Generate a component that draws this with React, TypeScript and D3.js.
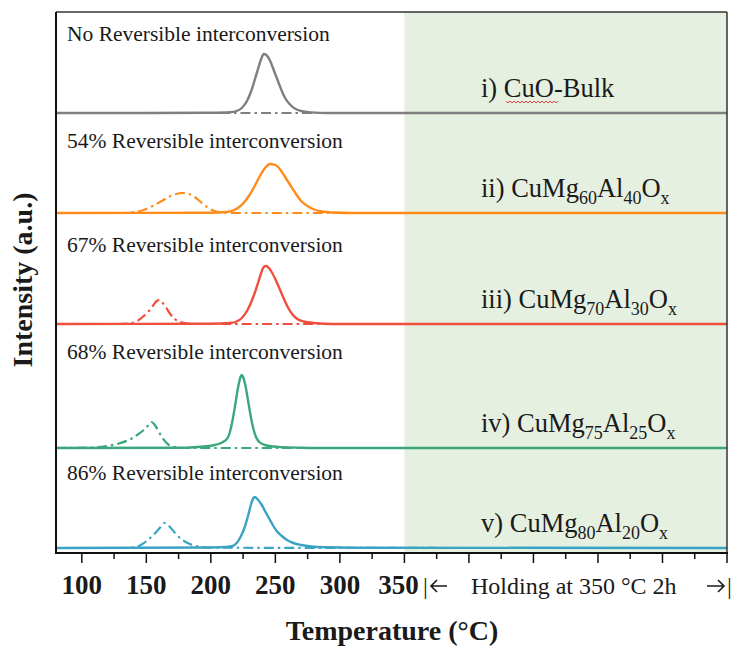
import React from "react";
import * as d3 from "d3";

// ---------- data ----------
type Pt = [number, number]; // [temperature °C, intensity a.u.]

const reversibility = ["No", "54%", "67%", "68%", "86%"];
const sampleTags = ["i)", "ii)", "iii)", "iv)", "v)"];
const mgContent = [0, 60, 70, 75, 80];
const alContent = [0, 40, 30, 25, 20];

// TPR traces (solid) and re-reduction traces (dash-dot)
const cuoBulkTpr: Pt[] = [
  [80, 0], [150, 0], [200, 0.3], [215, 0.8], [220, 2], [224, 5], [228, 12], [231, 21],
  [234, 33], [237, 46], [239, 54], [241, 59], [243, 58], [246, 52], [249, 42], [252, 32],
  [255, 22], [258, 14], [261, 9], [265, 4.5], [270, 2], [278, 0.6], [290, 0], [600, 0],
];
const cuoBulkRe: Pt[] = [[80, 0], [410, 0]];

const mg60Tpr: Pt[] = [
  [80, 0], [200, 0.3], [212, 1], [218, 3], [222, 6], [226, 11], [230, 18], [234, 27],
  [238, 37], [242, 45], [246, 49], [250, 48], [254, 43], [258, 35], [262, 27], [266, 19],
  [270, 12], [275, 7], [280, 3.5], [286, 1.5], [295, 0.5], [310, 0], [600, 0],
];
const mg60Re: Pt[] = [
  [80, 0], [130, 0], [140, 0.8], [148, 3], [155, 7], [162, 12], [168, 16.5], [173, 19],
  [178, 20], [183, 19], [188, 15.5], [193, 10], [198, 5], [203, 2], [210, 0.5], [220, 0], [410, 0],
];

const mg70Tpr: Pt[] = [
  [80, 0], [200, 0.3], [215, 1], [220, 2.5], [224, 6], [228, 13], [231, 21], [234, 31],
  [237, 43], [239, 51], [241, 57], [243, 58], [245, 56], [248, 50], [251, 42], [254, 33],
  [257, 24], [260, 16], [263, 10], [267, 5], [272, 2.5], [280, 1], [295, 0], [600, 0],
];
const mg70Re: Pt[] = [
  [80, 0], [130, 0], [138, 0.8], [143, 3], [148, 8], [152, 13], [155, 18], [158, 23],
  [160, 24], [162, 22], [165, 17], [168, 11], [172, 5], [176, 2], [182, 0.5], [190, 0], [410, 0],
];

const mg75Tpr: Pt[] = [
  [80, 0], [180, 0.3], [190, 1], [198, 2], [203, 3], [207, 4.5], [210, 6.5], [213, 10],
  [215, 17], [217, 29], [219, 44], [221, 60], [223, 71], [224, 73], [225, 71], [227, 61],
  [229, 46], [231, 31], [233, 19], [235, 11], [238, 5.5], [242, 3], [248, 1.5], [255, 0.8],
  [270, 0.3], [290, 0], [600, 0],
];
const mg75Re: Pt[] = [
  [80, 0], [110, 0.5], [120, 2], [130, 5], [138, 9], [144, 14], [148, 18], [151, 22],
  [154, 26], [156, 24], [159, 18], [162, 11], [165, 6], [168, 2.5], [172, 1], [180, 0], [410, 0],
];

const mg80Tpr: Pt[] = [
  [80, 0], [200, 0.5], [212, 1], [217, 2], [220, 5], [223, 11], [226, 20], [229, 33],
  [231, 43], [233, 50], [234, 51], [236, 49], [239, 44], [242, 37], [245, 30], [248, 23],
  [251, 17], [255, 12], [259, 8], [264, 5], [270, 3], [278, 1.5], [290, 0.7], [310, 0.3], [600, 0],
];
const mg80Re: Pt[] = [
  [80, 0], [135, 0], [142, 1], [147, 4], [152, 9], [157, 15], [161, 21], [164, 25],
  [166, 24], [169, 20], [173, 14], [177, 9], [182, 5], [187, 2.5], [193, 1], [200, 0.3], [410, 0],
];

const tprSeries = [cuoBulkTpr, mg60Tpr, mg70Tpr, mg75Tpr, mg80Tpr];
const reSeries = [cuoBulkRe, mg60Re, mg70Re, mg75Re, mg80Re];

const xDomain: [number, number] = [80, 600];
const holdStart = 350;
const majorTicks = [100, 150, 200, 250, 300, 350, 400, 450, 500, 550, 600];
const minorTicks = [125, 175, 225, 275, 325, 375, 425, 475, 525, 575];
const labelledTicks = [100, 150, 200, 250, 300, 350];

// ---------- layout & style ----------
const W = 734;
const H = 653;
const plotLeft = 56;
const plotRight = 727;
const plotTop = 12;
const plotBottom = 553;
const panelBaseY = [113, 213, 324, 448, 548];
const noteY = [41, 148, 252, 359, 480];
const colors = ["#7f7f7f", "#ff8c1a", "#f24e3d", "#3ba77d", "#3ba3c4"];
const serif = "'Liberation Serif', 'Times New Roman', serif";
const ink = "#1a1a1a";

// arrow glyph drawn as a stroke: shaft from x0 to x1, head at x1
function Arrow({ x0, x1, y }: { x0: number; x1: number; y: number }) {
  const dir = Math.sign(x1 - x0);
  const h = 6;
  return (
    <path
      d={`M${x0},${y}L${x1},${y}M${x1 - dir * h},${y - h}L${x1},${y}L${x1 - dir * h},${y + h}`}
      fill="none"
      stroke={ink}
      strokeWidth={1.6}
    />
  );
}

export default function App() {
  const x = d3.scaleLinear().domain(xDomain).range([plotLeft, plotRight]);

  const lineFor = (base: number) => {
    const y = d3.scaleLinear().domain([0, 80]).range([base, base - 80]);
    return d3
      .line<Pt>()
      .x((d) => x(d[0]))
      .y((d) => y(d[1]))
      .curve(d3.curveMonotoneX);
  };

  // spell-check squiggle under "CuO"
  const squiggle = (() => {
    const pts: string[] = [];
    const x0 = 506, x1 = 558, yb = 102;
    for (let i = 0, xx = x0; xx <= x1; xx += 2, i++) {
      pts.push(`${xx},${yb + (i % 2 === 0 ? -1 : 1)}`);
    }
    return "M" + pts.join("L");
  })();

  return (
    <svg
      width={W}
      height={H}
      viewBox={`0 0 ${W} ${H}`}
      style={{ position: "absolute", left: 0, top: 0, background: "#fff" }}
      fontFamily={serif}
    >
      {/* holding period shading */}
      <rect
        x={x(holdStart)}
        y={plotTop}
        width={plotRight - x(holdStart)}
        height={plotBottom - plotTop}
        fill="#e6f0e1"
      />

      {/* traces */}
      {tprSeries.map((s, i) => {
        const line = lineFor(panelBaseY[i]);
        return (
          <g key={i}>
            <path
              d={line(reSeries[i]) || ""}
              fill="none"
              stroke={colors[i]}
              strokeWidth={2.2}
              strokeDasharray="10,4,2.5,4"
            />
            <path d={line(s) || ""} fill="none" stroke={colors[i]} strokeWidth={2.4} />
          </g>
        );
      })}

      {/* frame */}
      <line x1={plotLeft} y1={plotTop} x2={plotRight} y2={plotTop} stroke="#333" strokeWidth={1.5} />
      <line x1={plotRight} y1={plotTop} x2={plotRight} y2={plotBottom} stroke="#333" strokeWidth={1.5} />
      <line x1={plotLeft} y1={plotTop} x2={plotLeft} y2={plotBottom + 1} stroke="#111" strokeWidth={2} />
      <line x1={plotLeft - 1} y1={plotBottom} x2={plotRight + 1} y2={plotBottom} stroke="#111" strokeWidth={2} />

      {/* ticks */}
      {majorTicks.map((t) => (
        <line key={`M${t}`} x1={x(t)} x2={x(t)} y1={plotBottom} y2={plotBottom + 10} stroke="#111" strokeWidth={1.5} />
      ))}
      {minorTicks.map((t) => (
        <line key={`m${t}`} x1={x(t)} x2={x(t)} y1={plotBottom} y2={plotBottom + 6} stroke="#111" strokeWidth={1.5} />
      ))}
      {labelledTicks.map((t) => (
        <text
          key={`l${t}`}
          x={x(t) + (t === 350 ? -6 : 0)}
          y={594}
          textAnchor="middle"
          fontSize={27}
          fontWeight="bold"
          fill={ink}
        >
          {t}
        </text>
      ))}

      {/* holding annotation */}
      <text x={423} y={594} fontSize={24} fill={ink}>|</text>
      <Arrow x0={447} x1={431} y={586} />
      <text x={471} y={594} fontSize={24} fill={ink}>Holding at 350 °C 2h</text>
      <Arrow x0={707} x1={724} y={586} />
      <text x={727} y={594} fontSize={24} fill={ink}>|</text>

      {/* axis titles */}
      <text x={392} y={640} textAnchor="middle" fontSize={28} fontWeight="bold" fill={ink}>
        Temperature (°C)
      </text>
      <text
        transform={`translate(32, 280) rotate(-90)`}
        textAnchor="middle"
        fontSize={28}
        fontWeight="bold"
        fill={ink}
      >
        Intensity (a.u.)
      </text>

      {/* per-panel notes */}
      {reversibility.map((r, i) => (
        <text key={`n${i}`} x={67} y={noteY[i]} fontSize={21.5} fill={ink}>
          {r} Reversible interconversion
        </text>
      ))}

      {/* sample names */}
      {sampleTags.map((tag, i) => (
        <text key={`s${i}`} x={481} y={panelBaseY[i] - 16} fontSize={26.5} fill={ink}>
          {i === 0 ? (
            `${tag} CuO-Bulk`
          ) : (
            <>
              {`${tag} CuMg`}
              <tspan fontSize={18} dy={7}>{mgContent[i]}</tspan>
              <tspan dy={-7}>Al</tspan>
              <tspan fontSize={18} dy={7}>{alContent[i]}</tspan>
              <tspan dy={-7}>O</tspan>
              <tspan fontSize={18} dy={7}>x</tspan>
            </>
          )}
        </text>
      ))}
      <path d={squiggle} fill="none" stroke="#e03030" strokeWidth={0.9} />
    </svg>
  );
}
